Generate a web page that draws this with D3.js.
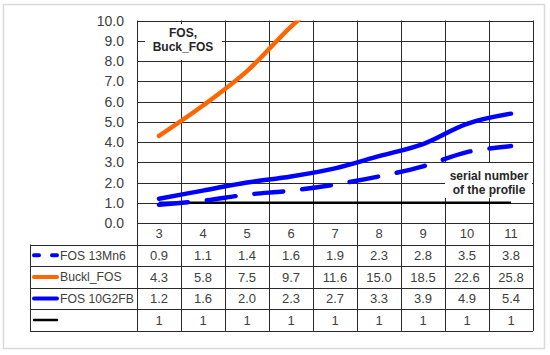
<!DOCTYPE html>
<html><head><meta charset="utf-8">
<script src="https://cdn.jsdelivr.net/npm/d3@7"></script>
<style>body{margin:0;background:#fff}svg{display:block}</style>
</head><body>
<script>
const categories = [3,4,5,6,7,8,9,10,11];
const fos13Mn6 = [0.9,1.1,1.4,1.6,1.9,2.3,2.8,3.5,3.8];
const bucklFos = [4.3,5.8,7.5,9.7,11.6,15.0,18.5,22.6,25.8];
const fos10G2FB = [1.2,1.6,2.0,2.3,2.7,3.3,3.9,4.9,5.4];
const unity = [1,1,1,1,1,1,1,1,1];
const yTicks = [0,1,2,3,4,5,6,7,8,9,10];
const seriesNames = ["FOS 13Mn6","Buckl_FOS","FOS 10G2FB",""];
const tableLabels = [["0.9","1.1","1.4","1.6","1.9","2.3","2.8","3.5","3.8"],
  ["4.3","5.8","7.5","9.7","11.6","15.0","18.5","22.6","25.8"],
  ["1.2","1.6","2.0","2.3","2.7","3.3","3.9","4.9","5.4"],
  ["1","1","1","1","1","1","1","1","1"]];

const W=550,H=355;
const svg=d3.select("body").append("svg").attr("width",W).attr("height",H);
const L=137,R=533,T=20.5,B=223;
const x=d3.scaleBand().domain(categories).range([L,R]);
const xc=d=>x(d)+x.bandwidth()/2;
const y=d3.scaleLinear().domain([0,10]).range([B,T]);
const gridC="#2a2a2a", textC="#404040";
const font="'Liberation Sans', Arial, sans-serif";

svg.append("rect").attr("x",3.5).attr("y",4.5).attr("width",541).attr("height",344)
  .attr("fill","#fff").attr("stroke","#d9d9d9").attr("stroke-width",1.5);

// horizontal grid
svg.append("g").selectAll("line").data(yTicks).join("line")
  .attr("x1",L).attr("x2",R).attr("y1",d=>Math.round(y(d))+0.5).attr("y2",d=>Math.round(y(d))+0.5)
  .attr("stroke",gridC).attr("stroke-width",1);

// table rows
const rowY=[B,244.5,266.1,287.7,309.3,330.9];
const vx=categories.map(c=>x(c)).concat([R]);
svg.append("g").selectAll("line").data(vx).join("line")
  .attr("x1",d=>Math.round(d)+0.5).attr("x2",d=>Math.round(d)+0.5)
  .attr("y1",T).attr("y2",rowY[5]).attr("stroke",gridC);
svg.append("g").selectAll("line").data(rowY.slice(1)).join("line")
  .attr("x1",30).attr("x2",R).attr("y1",d=>Math.round(d)+0.5).attr("y2",d=>Math.round(d)+0.5)
  .attr("stroke",gridC);
svg.append("line").attr("x1",30.5).attr("x2",30.5).attr("y1",rowY[1]).attr("y2",rowY[5]).attr("stroke",gridC);

// y labels
svg.append("g").selectAll("text").data(yTicks).join("text")
  .attr("x",124).attr("y",d=>y(d)).attr("dy","0.36em").attr("text-anchor","end")
  .attr("font-family",font).attr("font-size",14).attr("fill",textC)
  .text(d=>d3.format(".1f")(d));

// header categories
svg.append("g").selectAll("text").data(categories).join("text")
  .attr("x",d=>xc(d)).attr("y",(rowY[0]+rowY[1])/2).attr("dy","0.36em").attr("text-anchor","middle")
  .attr("font-family",font).attr("font-size",13).attr("fill",textC).text(d=>d);

// table values
tableLabels.forEach((row,r)=>{
  svg.append("g").selectAll("text").data(row).join("text")
    .attr("x",(d,i)=>xc(categories[i])).attr("y",(rowY[r+1]+rowY[r+2])/2).attr("dy","0.36em")
    .attr("text-anchor","middle").attr("font-family",font).attr("font-size",13).attr("fill",textC).text(d=>d);
});

// legend
const legStyles=[{c:"#0000ff",w:4,dash:"5,13"},{c:"#ff6600",w:4,dash:null},{c:"#0000ff",w:4,dash:null},{c:"#000",w:2.5,dash:null}];
seriesNames.forEach((n,r)=>{
  const cy=(rowY[r+1]+rowY[r+2])/2;
  const s=legStyles[r];
  svg.append("line").attr("x1",34).attr("x2",57).attr("y1",cy).attr("y2",cy)
    .attr("stroke",s.c).attr("stroke-width",s.w).attr("stroke-linecap","round")
    .attr("stroke-dasharray",s.dash);
  svg.append("text").attr("x",60).attr("y",cy).attr("dy","0.36em").attr("font-family",font)
    .attr("font-size",12.2).attr("fill",textC).text(n);
});

// annotation boxes
svg.append("rect").attr("x",145).attr("y",24).attr("width",77).attr("height",36).attr("fill","#fff");
svg.append("rect").attr("x",445).attr("y",163).attr("width",87).attr("height",35).attr("fill","#fff");
const ann=(cx,y0,lines)=>{
  svg.append("g").selectAll("text").data(lines).join("text")
    .attr("x",cx).attr("y",(d,i)=>y0+i*13.5).attr("text-anchor","middle")
    .attr("font-family",font).attr("font-size",12).attr("font-weight","bold").attr("fill","#262626").text(d=>d);
};
ann(183,37,["FOS,","Buck_FOS"]);
ann(489,180,["serial number","of the profile"]);

// series
svg.append("clipPath").attr("id","clip").append("rect").attr("x",L).attr("y",T).attr("width",R-L).attr("height",B-T);
const line=d3.line().x((d,i)=>xc(categories[i])).y(d=>y(d)).curve(d3.curveCatmullRom.alpha(0.5));
const g=svg.append("g").attr("clip-path","url(#clip)");
g.append("path").attr("d",line(unity)).attr("fill","none").attr("stroke","#000").attr("stroke-width",2.5);
g.append("path").attr("d",line(fos13Mn6)).attr("fill","none").attr("stroke","#0000ff").attr("stroke-width",4.5)
  .attr("stroke-linecap","round").attr("stroke-dasharray","29,19");
g.append("path").attr("d",line(fos10G2FB)).attr("fill","none").attr("stroke","#0000ff").attr("stroke-width",4.5).attr("stroke-linecap","round");
g.append("path").attr("d",line(bucklFos)).attr("fill","none").attr("stroke","#ff6600").attr("stroke-width",4.5).attr("stroke-linecap","round");
</script>
</body></html>
